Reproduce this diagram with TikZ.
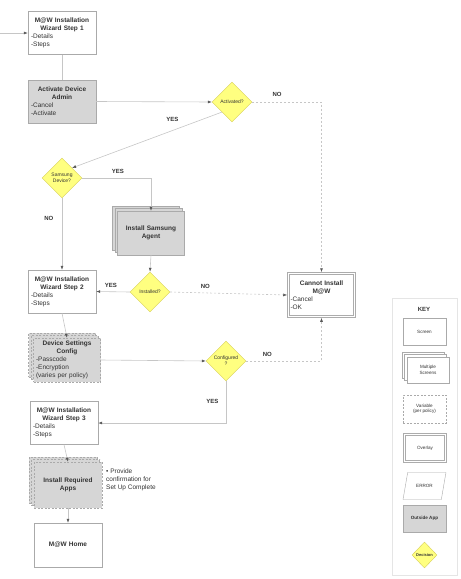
\documentclass[tikz,border=0pt]{standalone}
\usepackage{fontspec}
\setmainfont{Liberation Sans}
\usetikzlibrary{positioning,arrows.meta,shapes.geometric,shadows}

\definecolor{decfill}{HTML}{FFFF80}
\definecolor{decline}{HTML}{D6CE5A}
\definecolor{txtgray}{HTML}{333333}
\definecolor{boxline}{HTML}{AAAAAA}
\definecolor{appfill}{HTML}{D6D6D6}
\newcommand{\boxhead}[1]{{\centering\bfseries #1\par}}

\begin{document}
\begin{tikzpicture}[x=1pt,y=-1pt,
    font=\fontsize{6.5}{8}\selectfont, text=txtgray,
    screenbox/.style={draw=boxline, fill=white, minimum width=68pt, minimum height=43pt,
        text width=62pt, align=left, inner sep=2pt},
    appbox/.style={screenbox, fill=appfill},
    stackbox/.style={double copy shadow={shadow xshift=-2.5pt, shadow yshift=2.5pt}},
    varbox/.style={dash pattern=on 2pt off 1.5pt},
    dblline/.style={draw=gray!65, line width=0.5pt,
        path picture={\draw[gray!65, line width=0.5pt]
            ([shift={(1.8pt,-1.8pt)}]path picture bounding box.north west) rectangle
            ([shift={(-1.8pt,1.8pt)}]path picture bounding box.south east);}},
    overlaybox/.style={screenbox, dblline},
    decision/.style={diamond, aspect=1, draw=decline, fill=decfill, minimum width=40pt,
        minimum height=40pt, inner sep=0pt, align=center, font=\fontsize{5}{6}\selectfont},
    keytxt/.style={font=\fontsize{4.6}{5.6}\selectfont, align=center},
    conn/.style={draw=gray!45, line width=0.6pt, -{Latex[length=4pt,width=3pt,color=gray!70!black]}},
    dconn/.style={conn, dash pattern=on 2pt off 2pt},
    lbl/.style={font=\fontsize{6}{7}\selectfont\bfseries, text=txtgray},
    ]
    \useasboundingbox (0,0) rectangle (461,579);

    % Ecrans du parcours
    \node[screenbox] (step1) at (62,33) {\boxhead{M@W Installation\\Wizard Step 1}-Details\\-Steps};
    \node[appbox] (admin) at (62,101.5) {\boxhead{Activate Device\\Admin}-Cancel\\-Activate};
    \node[decision] (act) at (232,102) {Activated?};
    \node[decision] (samsung) at (62,178) {Samsung\\Device?};
    \node[appbox, stackbox, minimum width=67pt, minimum height=44pt] (agent) at (151,233)
        {\boxhead{Install Samsung\\Agent}};
    \node[decision] (installed) at (150,292) {Installed?};
    \node[screenbox] (step2) at (62,291.5) {\boxhead{M@W Installation\\Wizard Step 2}-Details\\-Steps};
    \node[overlaybox, minimum height=45pt] (cannot) at (321.5,295)
        {\boxhead{Cannot Install\\M@W}-Cancel\\-OK};
    \node[appbox, stackbox, varbox, minimum width=67pt, minimum height=44pt] (settings) at (67,360)
        {\boxhead{Device Settings\\Config}-Passcode\\-Encryption\\(varies per policy)};
    \node[decision] (conf) at (226,361) {Configured\\?};
    \node[screenbox] (step3) at (64,423) {\boxhead{M@W Installation\\Wizard Step 3}-Details\\-Steps};
    \node[appbox, stackbox, varbox, minimum height=46pt] (apps) at (68,485)
        {\boxhead{Install Required\\Apps}};
    \node[anchor=north west, align=left, inner sep=0pt] (note) at (106,469)
        {\textbullet\ Provide\\confirmation for\\Set Up Complete};
    \node[screenbox, minimum height=44pt] (home) at (68,545) {\boxhead{M@W Home}};

    % Liaisons
    \coordinate (entry) at (0,33);
    \draw[conn] (entry) -- (step1.west);
    \draw[conn, -] (step1) -- (admin);
    \draw[conn] (admin.east) -- (act.west);
    \draw[dconn] (act.east) -| node[lbl, pos=0.18, above=2pt] {NO} (cannot.north);
    \draw[conn] (act.south west) -- node[lbl, pos=0.33, above=5pt] {YES} (samsung.north east);
    \draw[conn] (samsung.east) -| node[lbl, pos=0.26, above=1pt] {YES} (agent.north);
    \draw[conn] (samsung.south) -- node[lbl, pos=0.28, left=5pt] {NO} (step2.north);
    \draw[conn] (agent.south) -- (installed.north);
    \draw[conn] (installed.west) -- node[lbl, pos=0.56, above=1pt] {YES} (step2.east);
    \draw[dconn] (installed.east) -- node[lbl, pos=0.3, above=1pt] {NO} (cannot.west);
    \draw[conn] (step2.south) -- (settings.north);
    \draw[conn] (settings.east) -- (conf.west);
    \draw[dconn] (conf.east) -| node[lbl, pos=0.14, above=1pt] {NO} (cannot.south);
    \draw[conn] (conf.south) |- node[lbl, pos=0.245, left=4pt] {YES} (step3.east);
    \draw[conn] (step3.south) -- (apps.north);
    \draw[conn] (apps.south) -- (home.north);

    % Legende
    \node[draw=gray!20, minimum width=65pt, minimum height=277pt] (keybox) at (424.5,436.5) {};
    \node[lbl, font=\fontsize{6}{7}\selectfont\bfseries] (keytitle) at (424,309) {KEY};
    \node[draw=boxline, fill=white, minimum width=43pt, minimum height=27pt, keytxt] (kscreen)
        at (424.5,331.5) {Screen};
    \node[draw=boxline, fill=white, stackbox, minimum width=42pt, minimum height=26pt, keytxt] (kmulti)
        at (428,370) {Multiple\\Screens};
    \node[draw=boxline, fill=white, varbox, minimum width=43pt, minimum height=28pt, keytxt] (kvar)
        at (424.5,409) {Variable\\(per policy)};
    \node[dblline, fill=white, minimum width=43pt, minimum height=29pt, keytxt] (koverlay)
        at (425,448) {Overlay};
    \node[trapezium, trapezium left angle=72, trapezium right angle=108, trapezium stretches=true,
        draw=boxline, fill=white, minimum width=43pt, minimum height=27pt, keytxt] (kerror)
        at (424.5,486) {ERROR};
    \node[draw=boxline, fill=appfill, minimum width=43pt, minimum height=27pt, keytxt,
        font=\fontsize{4.6}{5.6}\selectfont\bfseries] (kapp) at (424.5,518.5) {Outside App};
    \node[decision, minimum width=25pt, minimum height=26pt,
        font=\fontsize{4}{5}\selectfont\bfseries] (kdec) at (424.5,555) {Decision};
\end{tikzpicture}
\end{document}
